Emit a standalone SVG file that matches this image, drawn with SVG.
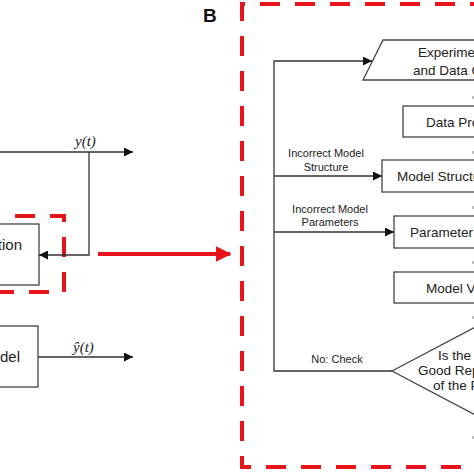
<svg xmlns="http://www.w3.org/2000/svg" width="474" height="474" viewBox="0 0 474 474">
<defs>
<style>
.ln{fill:none;stroke:#333;stroke-width:1.3}
.bx{fill:#fff;stroke:#444;stroke-width:1.3}
.red{fill:none;stroke:#e8141c;stroke-width:4;stroke-dasharray:20 15}
.t{font-family:"Liberation Sans",Arial,sans-serif;font-size:13.5px;fill:#222}
.lb{font-family:"Liberation Sans",Arial,sans-serif;font-size:11px;fill:#222;text-anchor:middle}
.m{font-family:"Liberation Serif","Times New Roman",serif;font-style:italic;font-size:15px;fill:#222}
.tk{stroke:#aaa;stroke-width:1.5}
</style>
<marker id="ah" viewBox="0 0 10 10" refX="10" refY="5" markerWidth="13" markerHeight="9" markerUnits="userSpaceOnUse" orient="auto">
<path d="M0,0 L10,5 L0,10 z" fill="#111"/>
</marker>
<marker id="rah" viewBox="0 0 10 10" refX="9" refY="5" markerWidth="16" markerHeight="16" markerUnits="userSpaceOnUse" orient="auto">
<path d="M0,0 L10,5 L0,10 z" fill="#e8141c"/>
</marker>
</defs>
<rect width="474" height="474" fill="#fff"/>

<!-- Panel A -->
<g id="ident">
<rect class="bx" x="-10" y="224" width="49" height="61"/>
<text class="t" x="22" y="250" text-anchor="end" style="font-size:15px">tion</text>
</g>
<g id="model">
<rect class="bx" x="-10" y="326" width="48" height="61"/>
<text class="t" x="20" y="362" text-anchor="end" style="font-size:15px">del</text>
</g>
<rect class="red" x="-20" y="216" width="84" height="76"/>

<g id="connectorsA">
<line class="ln" x1="0" y1="152" x2="133" y2="152" marker-end="url(#ah)"/>
<polyline class="ln" points="89,152 89,255 39,255" marker-end="url(#ah)"/>
<line class="ln" x1="38" y1="357" x2="133" y2="357" marker-end="url(#ah)"/>
<line x1="98" y1="254" x2="230" y2="254" stroke="#e8141c" stroke-width="4" marker-end="url(#rah)"/>
</g>
<text class="m" x="75" y="146">y(t)</text>
<text class="m" x="73" y="352">ŷ(t)</text>

<!-- Panel B -->
<text x="203" y="22" style="font-family:'Liberation Sans',Arial,sans-serif;font-weight:bold;font-size:19px" fill="#111">B</text>
<path class="red" d="M490,4 H242 V467 H490"/>

<g id="experiment">
<polygon class="bx" points="383,40 500,40 480,80 363,80"/>
<text class="t" x="418" y="57">Experimental</text>
<text class="t" x="413" y="75">and Data Collection</text>
</g>
<g id="dataproc">
<rect class="bx" x="403" y="106" width="90" height="31"/>
<text class="t" x="426" y="127">Data Processing</text>
</g>
<g id="structure">
<rect class="bx" x="382" y="160" width="110" height="32"/>
<text class="t" x="397" y="181">Model Structure</text>
</g>
<g id="params">
<rect class="bx" x="394" y="216" width="100" height="32"/>
<text class="t" x="410" y="237">Parameter</text>
</g>
<g id="validation">
<rect class="bx" x="394" y="272" width="100" height="31"/>
<text class="t" x="426" y="293">Model Validation</text>
</g>
<g id="decision">
<polygon class="bx" points="392,371 500,314 608,371 500,428"/>
<text class="t" x="438" y="360">Is the Model</text>
<text class="t" x="418" y="375">Good Representation</text>
<text class="t" x="433" y="390">of the Process?</text>
</g>

<g id="connectorsB">
<polyline class="ln" points="392,371 274,371 274,61 372,61" marker-end="url(#ah)"/>
<line class="ln" x1="274" y1="176" x2="382" y2="176" marker-end="url(#ah)"/>
<line class="ln" x1="274" y1="232" x2="394" y2="232" marker-end="url(#ah)"/>
<line class="tk" x1="473" y1="96" x2="473" y2="99"/>
<line class="tk" x1="473" y1="151" x2="473" y2="154"/>
<line class="tk" x1="473" y1="206" x2="473" y2="209"/>
<line class="tk" x1="473" y1="261" x2="473" y2="264"/>
<line class="tk" x1="473" y1="316" x2="473" y2="319"/>
<line class="tk" x1="473" y1="436" x2="473" y2="439"/>
</g>
<text class="lb" x="326" y="157">Incorrect Model</text>
<text class="lb" x="326" y="171">Structure</text>
<text class="lb" x="330" y="213">Incorrect Model</text>
<text class="lb" x="330" y="226">Parameters</text>
<text class="lb" x="337" y="363">No: Check</text>
</svg>
